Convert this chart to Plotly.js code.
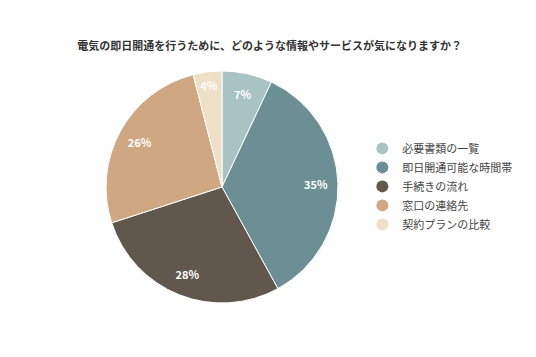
<!DOCTYPE html>
<html>
<head>
<meta charset="utf-8">
<script src="https://cdn.plot.ly/plotly-3.0.1.min.js"></script>
<style>html,body{margin:0;padding:0;background:#fff;}#chart{width:536px;height:357px;}</style>
</head>
<body>
<div id="chart"></div>
<script>
const categories = ["必要書類の一覧", "即日開通可能な時間帯", "手続きの流れ", "窓口の連絡先", "契約プランの比較"];
const values = [7, 35, 28, 26, 4];
const colors = ["#a9c2c3", "#6b8f95", "#62574d", "#cfa782", "#eee0c7"];
const titleText = "電気の即日開通を行うために、どのような情報やサービスが気になりますか？";

const font = "'Noto Sans CJK JP', 'Noto Sans', sans-serif";
const domain = {x: [0.1978, 0.6306], y: [0.1513, 0.8011]};

const traces = [{
  type: "pie",
  labels: categories,
  values: values,
  sort: false,
  direction: "clockwise",
  rotation: 0,
  marker: {colors: colors, line: {color: "#ffffff", width: 1}},
  textinfo: "none",
  showlegend: false,
  hoverinfo: "label+percent",
  domain: domain
}, {
  type: "pie",
  labels: categories,
  values: values,
  sort: false,
  direction: "clockwise",
  rotation: 0,
  hole: 0.62,
  marker: {colors: categories.map(() => "rgba(0,0,0,0)"), line: {width: 0}},
  texttemplate: "<b>%{value}%</b>",
  textposition: "inside",
  insidetextorientation: "horizontal",
  textfont: {color: "#ffffff", size: 11, family: font},
  showlegend: false,
  hoverinfo: "skip",
  domain: domain
}];

categories.forEach((c, i) => {
  traces.push({
    type: "scatter",
    mode: "markers",
    x: [null], y: [null],
    name: c,
    marker: {color: colors[i], size: 11, symbol: "circle"},
    showlegend: true,
    hoverinfo: "skip"
  });
});

const layout = {
  width: 536, height: 357,
  margin: {l: 0, r: 0, t: 0, b: 0},
  paper_bgcolor: "#ffffff",
  plot_bgcolor: "#ffffff",
  font: {family: font, color: "#333333", size: 11},
  title: {
    text: "<b>" + titleText + "</b>",
    x: 0.503, xanchor: "center",
    y: 0.872, yanchor: "middle",
    font: {family: font, size: 11, color: "#333333"}
  },
  xaxis: {visible: false, fixedrange: true},
  yaxis: {visible: false, fixedrange: true},
  showlegend: true,
  legend: {
    x: 0.676, xanchor: "left",
    y: 0.625, yanchor: "top",
    font: {family: font, size: 11, color: "#444444"},
    itemsizing: "constant",
    tracegroupgap: 0,
    bgcolor: "rgba(0,0,0,0)"
  }
};

Plotly.newPlot("chart", traces, layout, {staticPlot: true, displayModeBar: false});
</script>
</body>
</html>
